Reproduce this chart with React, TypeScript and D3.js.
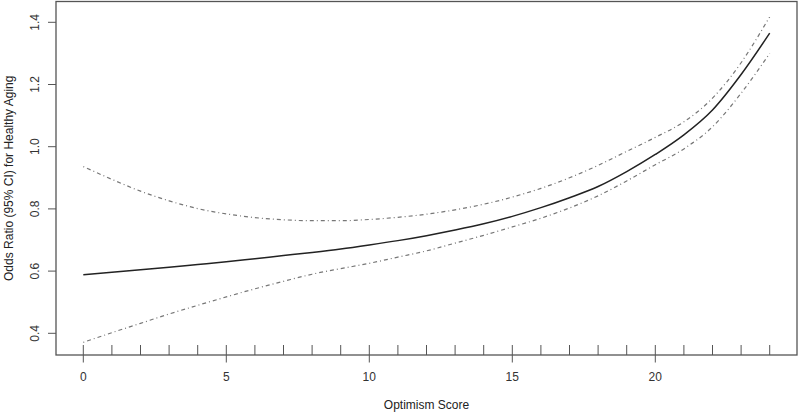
import React from "react";
import * as d3 from "d3";

// optimism score grid and odds ratio estimates
const scores = [0, 1, 2, 3, 4, 5, 6, 7, 8, 9, 10, 11, 12, 13, 14, 15, 16, 17, 18, 19, 20, 21, 22, 23, 24];
const oddsRatio = [0.588, 0.596, 0.604, 0.612, 0.621, 0.63, 0.64, 0.65, 0.66, 0.671, 0.684, 0.698, 0.714, 0.732, 0.752, 0.776, 0.804, 0.836, 0.872, 0.92, 0.975, 1.038, 1.118, 1.232, 1.365];
const upperCI = [0.936, 0.895, 0.857, 0.826, 0.801, 0.784, 0.772, 0.765, 0.762, 0.762, 0.766, 0.773, 0.783, 0.797, 0.815, 0.838, 0.866, 0.9, 0.94, 0.985, 1.03, 1.08, 1.156, 1.27, 1.418];
const lowerCI = [0.371, 0.402, 0.432, 0.462, 0.49, 0.517, 0.543, 0.567, 0.59, 0.608, 0.625, 0.645, 0.665, 0.69, 0.715, 0.742, 0.77, 0.803, 0.842, 0.89, 0.942, 0.993, 1.064, 1.172, 1.3];
const xTicks = [0, 5, 10, 15, 20];
const yTicks = [0.4, 0.6, 0.8, 1.0, 1.2, 1.4];

const width = 800;
const height = 412;
const frame = { left: 56, right: 797, top: 1.5, bottom: 355 };

export default function App() {
  const x = d3.scaleLinear().domain([0, 5]).range([83.3, 226.3]);
  const y = d3.scaleLinear().domain([0.4, 1.4]).range([333.3, 22.3]);

  const line = (vals: number[]) =>
    d3.line<number>()
      .x((_, i) => x(scores[i]))
      .y((d) => y(d))
      .curve(d3.curveMonotoneX)(vals) || "";

  const font = "Liberation Sans, Arial, sans-serif";
  const frameColor = "#555";

  return (
    <svg
      width={width}
      height={height}
      style={{ position: "absolute", left: 0, top: 0, background: "#fff" }}
      fontFamily={font}
    >
      {/* plot box */}
      <rect
        x={frame.left}
        y={frame.top}
        width={frame.right - frame.left}
        height={frame.bottom - frame.top}
        fill="none"
        stroke={frameColor}
        strokeWidth={1.3}
      />

      {/* y axis */}
      {yTicks.map((t) => (
        <g key={t}>
          <line x1={48} x2={frame.left} y1={y(t)} y2={y(t)} stroke={frameColor} />
          <text
            transform={`translate(39,${y(t)}) rotate(-90)`}
            textAnchor="middle"
            fontSize={12}
            fill="#333"
          >
            {d3.format(".1f")(t)}
          </text>
        </g>
      ))}
      <text
        transform={`translate(13,${(frame.top + frame.bottom) / 2}) rotate(-90)`}
        textAnchor="middle"
        fontSize={12}
        fill="#222"
      >
        Odds Ratio (95% CI) for Healthy Aging
      </text>

      {/* rug ticks at each score */}
      {scores.map((s) => (
        <line key={"r" + s} x1={x(s)} x2={x(s)} y1={345} y2={frame.bottom} stroke={frameColor} />
      ))}
      {/* x axis */}
      {xTicks.map((t) => (
        <g key={t}>
          <line x1={x(t)} x2={x(t)} y1={frame.bottom} y2={362.5} stroke={frameColor} />
          <text x={x(t)} y={381} textAnchor="middle" fontSize={12} fill="#333">
            {t}
          </text>
        </g>
      ))}
      <text x={(frame.left + frame.right) / 2} y={409} textAnchor="middle" fontSize={12} fill="#222">
        Optimism Score
      </text>

      {/* confidence bands */}
      <path d={line(upperCI)} fill="none" stroke="#777" strokeWidth={1.2} strokeDasharray="1 3 4 3" />
      <path d={line(lowerCI)} fill="none" stroke="#777" strokeWidth={1.2} strokeDasharray="1 3 4 3" />
      {/* estimate */}
      <path d={line(oddsRatio)} fill="none" stroke="#222" strokeWidth={1.5} />
    </svg>
  );
}
